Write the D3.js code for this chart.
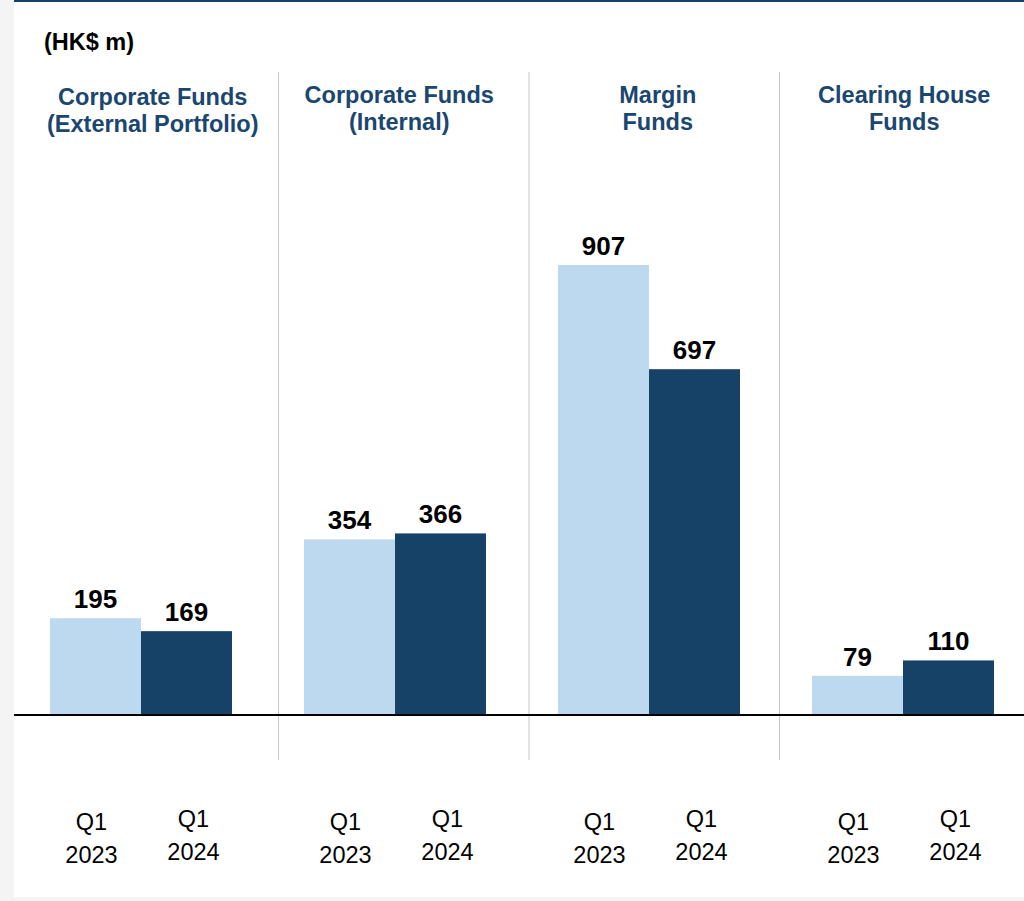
<!DOCTYPE html>
<html>
<head>
<meta charset="utf-8">
<script src="https://cdn.jsdelivr.net/npm/d3@7"></script>
<style>
  body { margin: 0; background: #f4f4f4; }
  svg { display: block; font-family: "Liberation Sans", Arial, sans-serif; }
</style>
</head>
<body>
<svg id="chart"></svg>
<script>
// data
const groups = ["Corporate Funds|(External Portfolio)", "Corporate Funds|(Internal)", "Margin|Funds", "Clearing House|Funds"];
const periods = ["Q1 2023", "Q1 2024"];
const q1_2023 = [195, 354, 907, 79];
const q1_2024 = [169, 366, 697, 110];
const unitLabel = "(HK$ m)";

const width = 1024, height = 901;
const colors = ["#bdd9f0", "#174268"];

const svg = d3.select("#chart")
    .attr("width", width)
    .attr("height", height);

// white panel
svg.append("rect")
    .attr("x", 14).attr("y", 0)
    .attr("width", width - 14).attr("height", 897)
    .attr("fill", "#fff");
svg.append("line")
    .attr("x1", 14).attr("x2", width)
    .attr("y1", 1).attr("y2", 1)
    .attr("stroke", "#174268").attr("stroke-width", 2);

// scales
const x0 = d3.scaleBand()
    .domain(groups)
    .range([50, 994])
    .paddingInner(0.2835)
    .paddingOuter(0);

const xBar = d3.scaleBand()
    .domain(periods)
    .range([0, x0.bandwidth()]);

const panel = d3.scaleBand()
    .domain(groups)
    .range([27.5, 1029.5]);

const y = d3.scaleLinear()
    .domain([0, 907])
    .range([715, 265]);

// dividers
svg.selectAll(".divider")
    .data(groups.slice(1))
    .enter().append("line")
    .attr("class", "divider")
    .attr("x1", d => panel(d) + 0.5)
    .attr("x2", d => panel(d) + 0.5)
    .attr("y1", 72).attr("y2", 760)
    .attr("stroke", "#c6c6c6").attr("stroke-width", 1);

// titles
const titles = svg.selectAll(".title")
    .data(groups)
    .enter().append("text")
    .attr("class", "title")
    .attr("text-anchor", "middle")
    .attr("font-size", 23.5)
    .attr("font-weight", "bold")
    .attr("fill", "#1a4670");
titles.each(function (d, gi) {
    const lines = d.split("|");
    d3.select(this).selectAll("tspan")
        .data(lines)
        .enter().append("tspan")
        .attr("x", panel(d) + panel.bandwidth() / 2 - (gi === 1 ? 4 : gi === 2 ? -4 : 0))
        .attr("y", (l, i) => (gi === 0 ? 105 : 103) + i * 27)
        .text(l => l);
});

svg.append("text")
    .attr("x", 44).attr("y", 50)
    .attr("font-size", 23.5)
    .attr("font-weight", "bold")
    .attr("fill", "#000")
    .text(unitLabel);

// bars
const rows = groups.map((g, i) => ({
    group: g,
    values: [
        { period: periods[0], value: q1_2023[i] },
        { period: periods[1], value: q1_2024[i] }
    ]
}));

const gGroup = svg.selectAll(".grp")
    .data(rows)
    .enter().append("g")
    .attr("class", "grp")
    .attr("transform", d => `translate(${x0(d.group)},0)`);

gGroup.selectAll("rect")
    .data(d => d.values)
    .enter().append("rect")
    .attr("x", d => xBar(d.period))
    .attr("width", xBar.bandwidth())
    .attr("y", d => y(d.value))
    .attr("height", d => y(0) - y(d.value))
    .attr("fill", (d, i) => colors[i]);

gGroup.selectAll(".val")
    .data(d => d.values)
    .enter().append("text")
    .attr("class", "val")
    .attr("x", d => xBar(d.period) + xBar.bandwidth() / 2)
    .attr("y", d => y(d.value) - 10)
    .attr("text-anchor", "middle")
    .attr("font-size", 26)
    .attr("font-weight", "bold")
    .attr("fill", "#000")
    .text(d => d.value);

// category labels
gGroup.selectAll(".cat")
    .data(d => d.values)
    .enter().append("text")
    .attr("class", "cat")
    .attr("text-anchor", "middle")
    .attr("font-size", 23.5)
    .attr("fill", "#000")
    .each(function (d, i) {
        const cx = xBar(d.period) + xBar.bandwidth() / 2 + (i === 0 ? -4 : 7);
        const dy = i === 0 ? 0 : -3;
        const parts = d.period.split(" ");
        d3.select(this).selectAll("tspan")
            .data(parts)
            .enter().append("tspan")
            .attr("x", cx)
            .attr("y", (p, k) => 830 + dy + k * 33)
            .text(p => p);
    });

// baseline
svg.append("line")
    .attr("x1", 14).attr("x2", width)
    .attr("y1", y(0)).attr("y2", y(0))
    .attr("stroke", "#000").attr("stroke-width", 2);
</script>
</body>
</html>
